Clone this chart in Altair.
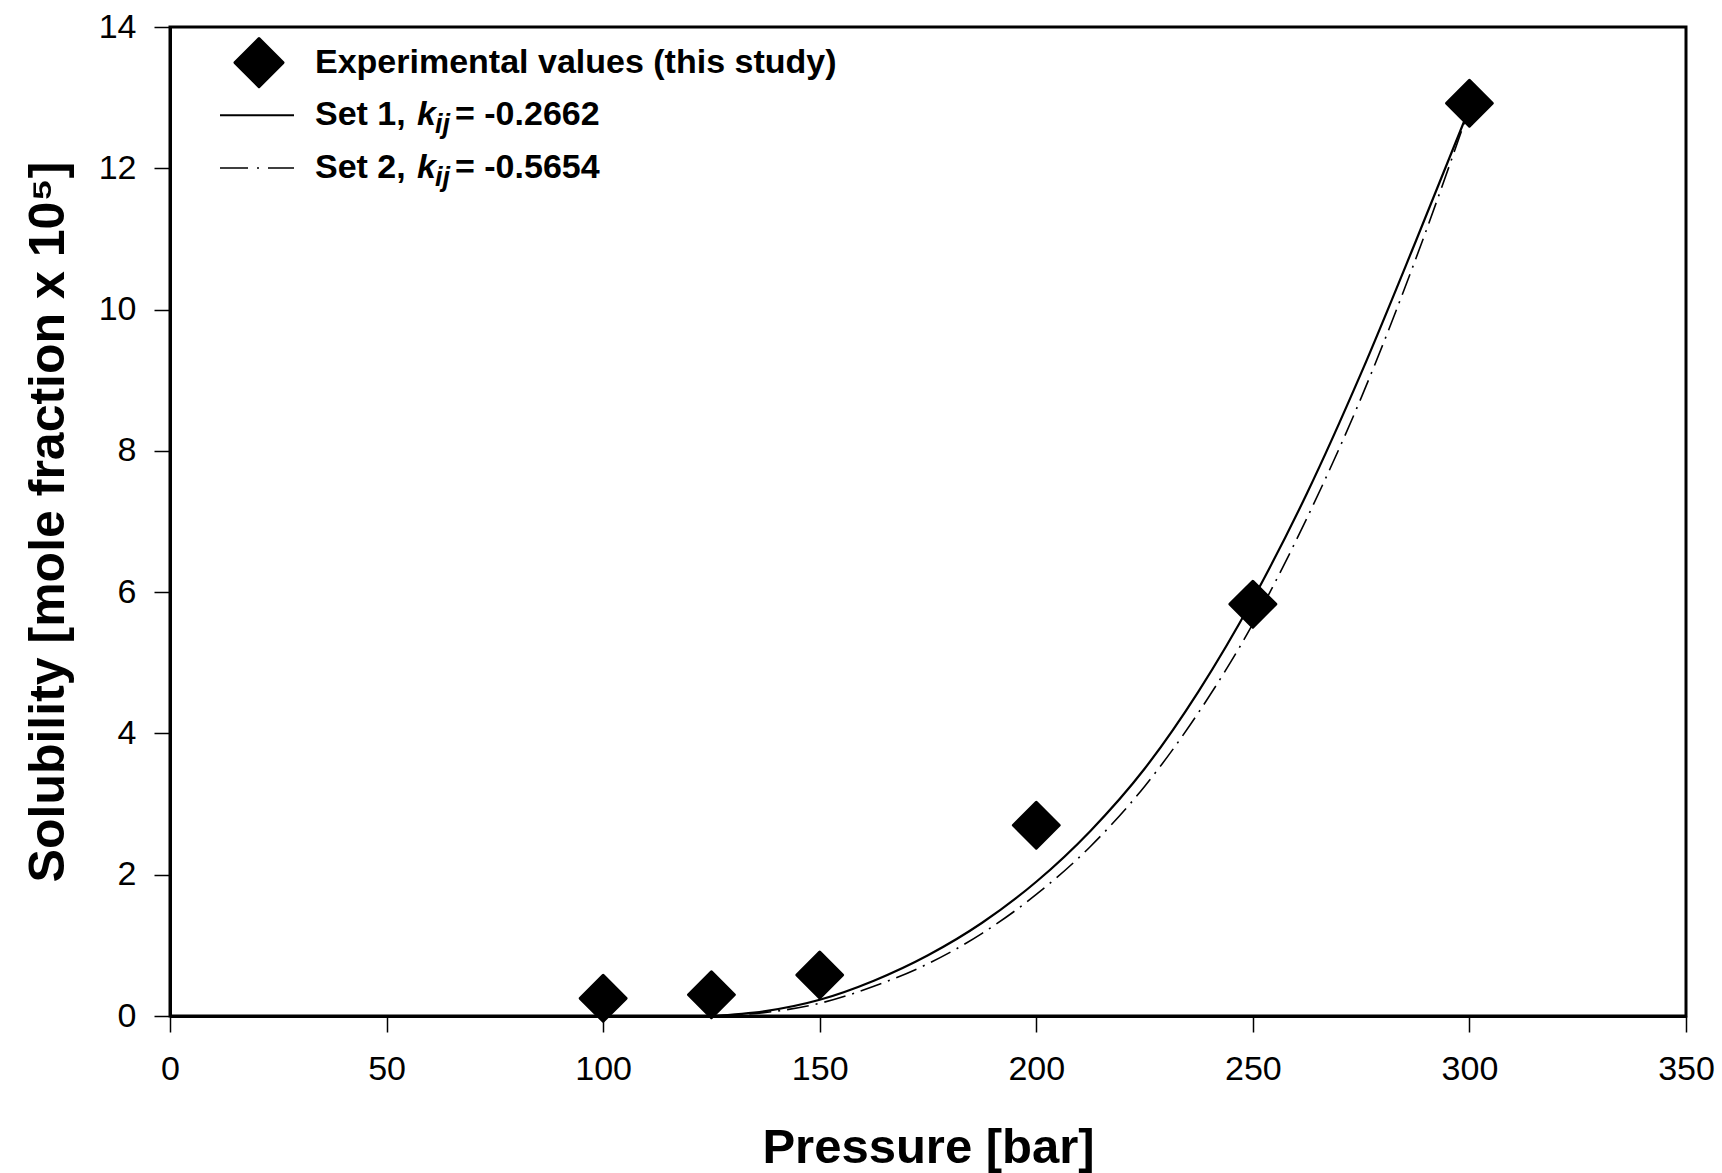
import altair as alt
import pandas as pd

# Experimental data
exp_pressure = [100, 125, 150, 200, 250, 300]
exp_solubility = [0.25, 0.30, 0.58, 2.70, 5.83, 12.92]

# Model curves
model_pressure = [125, 137.5, 150, 162.5, 175, 187.5, 200, 212.5, 225, 237.5, 250, 262.5, 275, 287.5, 300]
set1_solubility = [0.0, 0.07, 0.23, 0.50, 0.86, 1.32, 1.90, 2.62, 3.50, 4.60, 5.90, 7.40, 9.10, 10.95, 12.85]
set2_solubility = [0.0, 0.05, 0.18, 0.42, 0.74, 1.17, 1.72, 2.40, 3.25, 4.30, 5.55, 7.05, 8.75, 10.70, 12.85]

x_ticks = [0, 50, 100, 150, 200, 250, 300, 350]
y_ticks = [0, 2, 4, 6, 8, 10, 12, 14]

FONT = "Liberation Sans"

exp_df = pd.DataFrame({"P": exp_pressure, "S": exp_solubility})
set1_df = pd.DataFrame({"P": model_pressure, "S": set1_solubility})
set2_df = pd.DataFrame({"P": model_pressure, "S": set2_solubility})

xscale = alt.Scale(domain=[0, 350], nice=False, zero=False)
yscale = alt.Scale(domain=[0, 14], nice=False, zero=False)

xenc = alt.X("P:Q", scale=xscale,
             axis=alt.Axis(values=x_ticks, title="Pressure [bar]", titleY=146,
                           titleBaseline="alphabetic", labelPadding=20, titleFontSize=49))
yenc = alt.Y("S:Q", scale=yscale,
             axis=alt.Axis(values=y_ticks, title="Solubility [mole fraction x 10\u2075]",
                           titleX=-107, titleBaseline="alphabetic", labelPadding=18,
                           titleFontSize=50))

line1 = alt.Chart(set1_df).mark_line(color="black", strokeWidth=2.2, interpolate="monotone").encode(
    x=xenc, y=yenc)
line2 = alt.Chart(set2_df).mark_line(color="black", strokeWidth=1.6, interpolate="monotone",
                                     strokeDash=[22, 7, 2, 7]).encode(x=xenc, y=yenc)
points = alt.Chart(exp_df).mark_point(shape="diamond", size=2100, filled=True, color="black",
                                      stroke="black", strokeWidth=3, strokeJoin="round",
                                      opacity=1, clip=False).encode(x=xenc, y=yenc)

# ---- manual legend (pixel positions inside plot area) ----
leg_row_y = [35.6, 88.3, 141.0]
leg_df = pd.DataFrame({"a": [0]})

leg_diamond = alt.Chart(leg_df).mark_point(shape="diamond", size=2300, filled=True, color="black",
                                           stroke="black", strokeWidth=3, strokeJoin="round",
                                           opacity=1).encode(
    x=alt.value(89), y=alt.value(leg_row_y[0]))
leg_line1 = alt.Chart(leg_df).mark_rule(color="black", strokeWidth=2).encode(
    x=alt.value(50), x2=alt.value(124), y=alt.value(leg_row_y[1]))
leg_line2 = alt.Chart(leg_df).mark_rule(color="black", strokeWidth=1.6,
                                        strokeDash=[28, 9, 2, 9]).encode(
    x=alt.value(50), x2=alt.value(124), y=alt.value(leg_row_y[2]))

bold_texts = pd.DataFrame({
    "t": ["Experimental values (this study)", "Set 1,", "= -0.2662", "Set 2,", "= -0.5654"],
    "px": [145, 145, 285, 145, 285],
    "py": [leg_row_y[0], leg_row_y[1], leg_row_y[1], leg_row_y[2], leg_row_y[2]],
})
k_texts = pd.DataFrame({"t": ["k", "k"], "px": [247, 247], "py": [leg_row_y[1], leg_row_y[2]]})
ij_texts = pd.DataFrame({"t": ["ij", "ij"], "px": [265, 265],
                         "py": [leg_row_y[1] + 10, leg_row_y[2] + 10]})

leg_bold = alt.Chart(bold_texts).mark_text(font=FONT, fontSize=34, fontWeight="bold", align="left",
                                           baseline="middle", color="black").encode(
    x=alt.X("px:Q", scale=None), y=alt.Y("py:Q", scale=None), text="t:N")
leg_k = alt.Chart(k_texts).mark_text(font=FONT, fontSize=34, fontWeight="bold", fontStyle="italic",
                                     align="left", baseline="middle", color="black").encode(
    x=alt.X("px:Q", scale=None), y=alt.Y("py:Q", scale=None), text="t:N")
leg_ij = alt.Chart(ij_texts).mark_text(font=FONT, fontSize=27, fontWeight="bold", fontStyle="italic",
                                       align="left", baseline="middle", color="black").encode(
    x=alt.X("px:Q", scale=None), y=alt.Y("py:Q", scale=None), text="t:N")

chart = alt.layer(line1, line2, points, leg_diamond, leg_line1, leg_line2, leg_bold, leg_k, leg_ij).properties(
    width=1516, height=989,
    autosize=alt.AutoSizeParams(type="none"),
    padding={"left": 170, "top": 27, "right": 36, "bottom": 157},
    background="white",
).configure_view(
    stroke="black", strokeWidth=3
).configure_axis(
    grid=False,
    domainColor="black", domainWidth=3,
    tickColor="black", tickWidth=1.5, tickSize=16,
    labelFont=FONT, labelFontSize=34, labelColor="black",
    labelOverlap=False, labelFlush=False,
    titleFont=FONT, titleFontWeight="bold", titleColor="black",
)

chart.save("out.html", embed_options={"renderer": "svg", "actions": False})
